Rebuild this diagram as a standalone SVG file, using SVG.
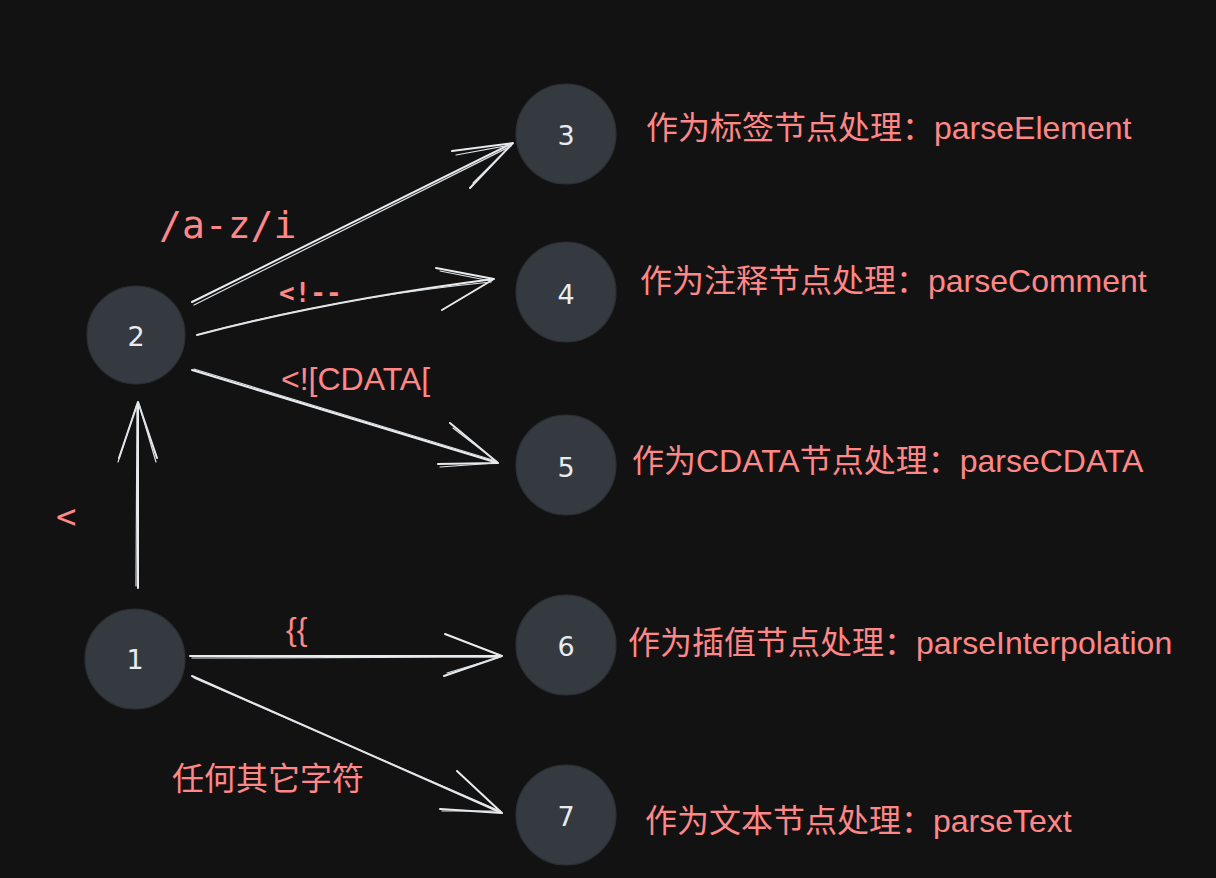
<svg xmlns="http://www.w3.org/2000/svg" width="1216" height="878" viewBox="0 0 1216 878">
<style>
.node{fill:#343a40;stroke:#2b3035;stroke-width:1.2}
.num{fill:#e9ecef;font-family:"DejaVu Sans",sans-serif;font-size:27px;text-anchor:middle;dominant-baseline:central}
.lbl{fill:#ff8787;font-family:"Liberation Sans","Noto Sans CJK SC",sans-serif;font-size:32px}
.mono{fill:#ff8787;font-family:"DejaVu Sans Mono","Liberation Mono",monospace}
.c{fill:none;stroke:#e9ecef;stroke-width:2;stroke-linecap:round;stroke-linejoin:round}
.c2{fill:none;stroke:#dee2e6;stroke-width:1.2;stroke-linecap:round}
</style>
<rect width="1216" height="878" fill="#121212"/>
<g id="connectors">
  <!-- 1 -> 2 -->
  <path class="c" d="M138 588 L138 402 M138 402 L119 458 M138 402 L157 458"/>
  <path class="c2" d="M136 586 L137 404 M137 404 L118 462 M139 404 L156 462"/>
  <!-- 2 -> 3 -->
  <path class="c" d="M192 302 L513 143 M513 143 L452 151 M513 143 L470 188"/>
  <path class="c2" d="M194 305 L511 146 M511 145 L456 155 M511 145 L473 183"/>
  <!-- 2 -> 4 -->
  <path class="c" d="M197 335 Q330 300 494 279 M494 279 L436 268 M494 279 L442 310"/>
  <path class="c2" d="M200 334 Q340 297 491 282 M491 281 L440 271"/>
  <!-- 2 -> 5 -->
  <path class="c" d="M192 370 L498 463 M498 463 L450 423 M498 463 L438 464"/>
  <path class="c2" d="M194 369 L496 461 M496 461 L453 428 M496 463 L440 467"/>
  <!-- 1 -> 6 -->
  <path class="c" d="M190 656 L502 656 M502 656 L445 634 M502 656 L444 676"/>
  <path class="c2" d="M192 658 L500 657 M500 657 L447 673"/>
  <!-- 1 -> 7 -->
  <path class="c" d="M192 676 L502 813 M502 813 L457 771 M502 813 L440 809"/>
  <path class="c2" d="M194 678 L500 811 M500 811 L442 811"/>
</g>
<g id="labels">
  <text class="mono" x="159" y="238" font-size="38">/a-z/i</text>
  <text class="mono" x="279" y="302" font-size="26" font-weight="bold">&lt;!--</text>
  <text class="lbl" x="281" y="390" font-size="26">&lt;![CDATA[</text>
  <text class="mono" x="56" y="528" font-size="34">&lt;</text>
  <text class="lbl" x="286" y="640" font-size="26">{{</text>
  <text class="lbl" x="172" y="790" font-size="31">任何其它字符</text>
</g>
<g id="node-1"><circle class="node" cx="135" cy="659" r="50"/><text class="num" x="135" y="659">1</text></g>
<g id="node-2"><circle class="node" cx="136" cy="335" r="49"/><text class="num" x="136" y="336">2</text></g>
<g id="node-3"><circle class="node" cx="566" cy="134" r="50"/><text class="num" x="566" y="135">3</text><text class="lbl" x="646" y="139">作为标签节点处理：parseElement</text></g>
<g id="node-4"><circle class="node" cx="566" cy="292" r="50"/><text class="num" x="566" y="294">4</text><text class="lbl" x="640" y="292">作为注释节点处理：parseComment</text></g>
<g id="node-5"><circle class="node" cx="566" cy="465" r="50"/><text class="num" x="566" y="467">5</text><text class="lbl" x="632" y="472">作为CDATA节点处理：parseCDATA</text></g>
<g id="node-6"><circle class="node" cx="566" cy="645" r="50"/><text class="num" x="566" y="646">6</text><text class="lbl" x="628" y="654">作为插值节点处理：parseInterpolation</text></g>
<g id="node-7"><circle class="node" cx="566" cy="815" r="50"/><text class="num" x="566" y="816">7</text><text class="lbl" x="645" y="832">作为文本节点处理：parseText</text></g>
</svg>
